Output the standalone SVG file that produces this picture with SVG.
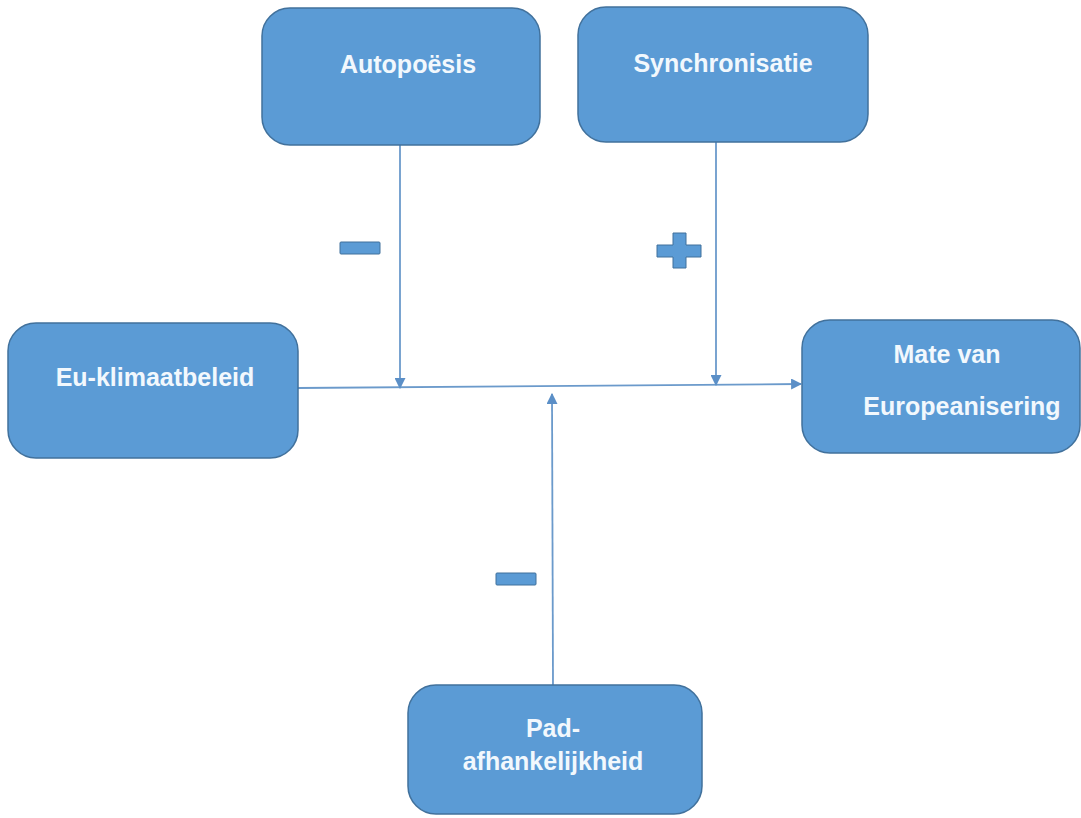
<svg xmlns="http://www.w3.org/2000/svg" width="1081" height="818" viewBox="0 0 1081 818">
  <style>
    .box { fill: #5b9bd5; stroke: #41719c; stroke-width: 1.5; }
    .lbl { font-family: "Liberation Sans", Arial, sans-serif; font-weight: bold; font-size: 25px; fill: #f2f8fd; text-anchor: middle; }
    .wire { stroke: #6b9acb; stroke-width: 1.8; fill: none; }
    .sign { fill: #5b9bd5; stroke: #41719c; stroke-width: 1; }
  </style>
  <defs>
    <marker id="arrow" viewBox="0 0 10 10" refX="9" refY="5" markerWidth="11" markerHeight="11" markerUnits="userSpaceOnUse" orient="auto">
      <path d="M0,0 L10,5 L0,10 z" fill="#5b8fc7"/>
    </marker>
  </defs>
  <rect width="1081" height="818" fill="#ffffff"/>

  <g id="connectors">
    <line class="wire" x1="298" y1="388" x2="801" y2="384" marker-end="url(#arrow)"/>
    <line class="wire" x1="400" y1="145" x2="400" y2="388" marker-end="url(#arrow)"/>
    <line class="wire" x1="716" y1="142" x2="716" y2="385" marker-end="url(#arrow)"/>
    <line class="wire" x1="553" y1="685" x2="552" y2="394" marker-end="url(#arrow)"/>
  </g>

  <g id="signs">
    <rect class="sign" x="340" y="242" width="40" height="12" rx="1"/>
    <path class="sign" d="M673,233 H686 V245 H701 V257 H686 V268 H673 V257 H657 V245 H673 Z"/>
    <rect class="sign" x="496" y="573" width="40" height="12" rx="1"/>
  </g>

  <g id="autopoesis">
    <rect class="box" x="262" y="8" width="278" height="137" rx="28"/>
    <text class="lbl" x="408" y="73">Autopoësis</text>
  </g>

  <g id="synchronisatie">
    <rect class="box" x="578" y="7" width="290" height="135" rx="28"/>
    <text class="lbl" x="723" y="72">Synchronisatie</text>
  </g>

  <g id="eu-klimaatbeleid">
    <rect class="box" x="8" y="323" width="290" height="135" rx="28"/>
    <text class="lbl" x="155" y="386">Eu-klimaatbeleid</text>
  </g>

  <g id="europeanisering">
    <rect class="box" x="802" y="320" width="278" height="133" rx="28"/>
    <text class="lbl" x="947" y="363">Mate van</text>
    <text class="lbl" x="962" y="415">Europeanisering</text>
  </g>

  <g id="padafhankelijkheid">
    <rect class="box" x="408" y="685" width="294" height="129" rx="28"/>
    <text class="lbl" x="553" y="737">Pad-</text>
    <text class="lbl" x="553" y="770">afhankelijkheid</text>
  </g>
</svg>
